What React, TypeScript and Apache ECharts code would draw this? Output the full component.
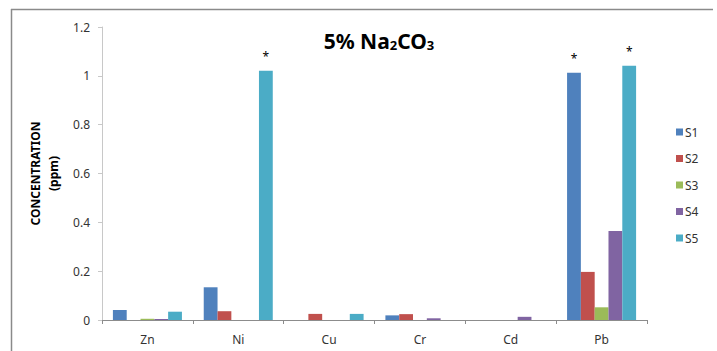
import React, { useEffect, useRef } from "react";
import * as echarts from "echarts";

const categories = ["Zn", "Ni", "Cu", "Cr", "Cd", "Pb"];
const seriesNames = ["S1", "S2", "S3", "S4", "S5"];
const s1 = [0.041, 0.134, 0, 0.019, 0, 1.013];
const s2 = [0, 0.036, 0.025, 0.024, 0, 0.197];
const s3 = [0.005, 0, 0, 0, 0, 0.052];
const s4 = [0.004, 0, 0, 0.007, 0.013, 0.364];
const s5 = [0.034, 1.021, 0.025, 0, 0, 1.041];
const seriesValues = [s1, s2, s3, s4, s5];
const colors = ["#4F81BD", "#C0504D", "#9BBB59", "#8064A2", "#4BACC6"];
// [seriesIndex, categoryIndex] of bars marked with an asterisk
const starred = [
  [4, 1],
  [0, 5],
  [4, 5],
];
const yTicks = { min: 0, max: 1.2, interval: 0.2 };

const FONT = "Noto Sans";

export default function App() {
  const ref = useRef<HTMLDivElement>(null);
  useEffect(() => {
    if (!ref.current) return;
    const chart = echarts.init(ref.current, null, { renderer: "svg" });
    chart.setOption({
      animation: false,
      textStyle: { fontFamily: FONT },
      title: {
        text: "{a|5% Na}{s|2}{a|CO}{s|3}",
        left: 374,
        top: 25,
        textAlign: "center",
        textStyle: {
          rich: {
            a: { fontFamily: FONT, fontSize: 21, fontWeight: "bold", color: "#000" },
            s: {
              fontFamily: FONT,
              fontSize: 13,
              fontWeight: "bold",
              color: "#000",
              verticalAlign: "bottom",
              padding: [6, 0, 0, 0],
            },
          },
        },
      },
      graphic: [
        { type: "line", shape: { x1: 11, y1: 9.5, x2: 713, y2: 9.5 }, style: { stroke: "#8a8a8a", lineWidth: 1.5 } },
        { type: "line", shape: { x1: 11.5, y1: 9, x2: 11.5, y2: 351 }, style: { stroke: "#8a8a8a", lineWidth: 1.5 } },
      ],
      legend: {
        orient: "vertical",
        left: 671,
        top: 121,
        itemWidth: 7,
        itemHeight: 7,
        itemGap: 14.5,
        icon: "rect",
        data: seriesNames,
        textStyle: { fontFamily: FONT, fontSize: 12, color: "#333", padding: [0, 0, 0, -3] },
      },
      grid: { left: 102, right: 70, top: 27, bottom: 31, containLabel: false },
      xAxis: {
        type: "category",
        data: categories,
        axisLine: { lineStyle: { color: "#8c8c8c", width: 1 } },
        axisTick: { show: true, length: 4, lineStyle: { color: "#8c8c8c" } },
        axisLabel: { fontFamily: FONT, fontSize: 12, color: "#333", margin: 13 },
      },
      yAxis: {
        type: "value",
        min: yTicks.min,
        max: yTicks.max,
        interval: yTicks.interval,
        name: "CONCENTRATION\n(ppm)",
        nameLocation: "middle",
        nameRotate: 90,
        nameGap: 33,
        nameTextStyle: { fontFamily: FONT, fontSize: 12, fontWeight: "bold", color: "#000", lineHeight: 18 },
        axisLine: { show: true, lineStyle: { color: "#c8c8c8" } },
        axisTick: { show: true, length: 4, lineStyle: { color: "#c8c8c8" } },
        splitLine: { show: false },
        axisLabel: { fontFamily: FONT, fontSize: 12, color: "#333", margin: 12 },
      },
      series: seriesNames.map((name, si) => ({
        name,
        type: "bar",
        barGap: "0%",
        barCategoryGap: "24%",
        itemStyle: { color: colors[si] },
        data: seriesValues[si].map((v, ci) =>
          starred.some(([a, b]) => a === si && b === ci)
            ? {
                value: v,
                label: {
                  show: true,
                  position: "top",
                  formatter: "*",
                  distance: 8,
                  fontFamily: FONT,
                  fontSize: 12,
                  color: "#000",
                },
              }
            : v
        ),
      })),
    });
    return () => chart.dispose();
  }, []);
  return <div ref={ref} style={{ width: 717, height: 351, position: "absolute", left: 0, top: 0 }} />;
}
